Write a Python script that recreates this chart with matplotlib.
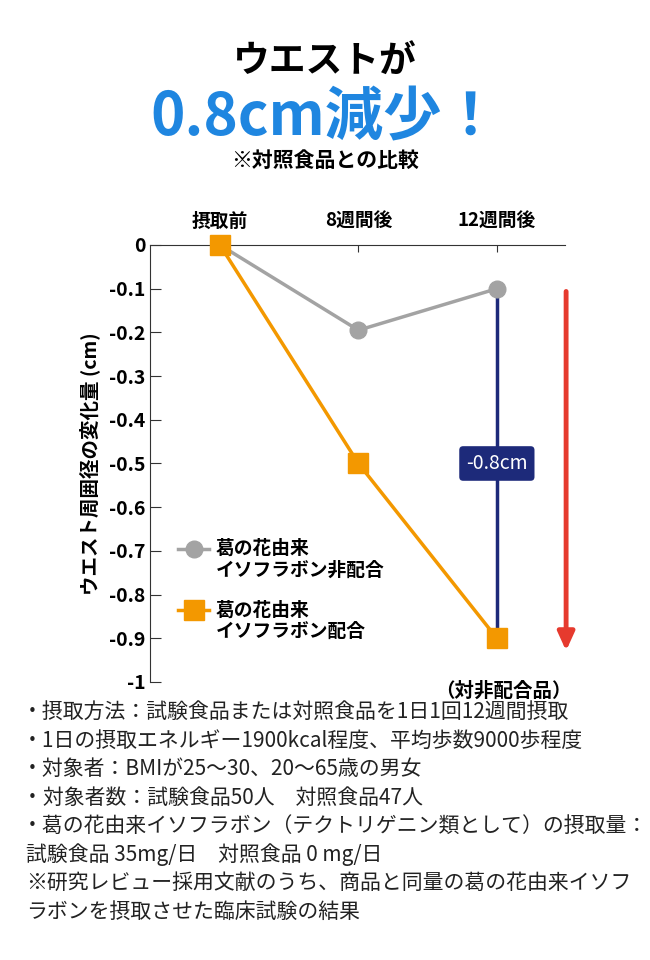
import matplotlib
matplotlib.use("Agg")
import matplotlib.pyplot as plt

plt.rcParams["font.family"] = ["Noto Sans CJK JP"]

categories = ["摂取前", "8週間後", "12週間後"]
control = [0, -0.195, -0.1]
test = [0, -0.5, -0.9]
yticks = [0, -0.1, -0.2, -0.3, -0.4, -0.5, -0.6, -0.7, -0.8, -0.9, -1]
ytick_labels = ["0", "-0.1", "-0.2", "-0.3", "-0.4", "-0.5", "-0.6", "-0.7", "-0.8", "-0.9", "-1"]
notes = [
    "・摂取方法：試験食品または対照食品を1日1回12週間摂取",
    "・1日の摂取エネルギー1900kcal程度、平均歩数9000歩程度",
    "・対象者：BMIが25～30、20～65歳の男女",
    "・対象者数：試験食品50人　対照食品47人",
    "・葛の花由来イソフラボン（テクトリゲニン類として）の摂取量：",
    "試験食品 35mg/日　対照食品 0 mg/日",
    "※研究レビュー採用文献のうち、商品と同量の葛の花由来イソフ",
    "ラボンを摂取させた臨床試験の結果",
]

GRAY = "#a3a3a3"
ORANGE = "#f39800"
NAVY = "#1d2a7a"
RED = "#e63a2e"
BLUE = "#1f86e0"

fig = plt.figure(figsize=(6.5, 9.6), dpi=100)
ax = fig.add_axes([0.2308, 0.2896, 0.638, 0.4552])
x = list(range(len(categories)))
ax.set_xlim(-0.505, 2.49)
ax.set_ylim(-1, 0)

ax.plot(x, control, color=GRAY, lw=2.5, marker="o", ms=12, zorder=3, clip_on=False)
ax.plot(x, test, color=ORANGE, lw=2.5, marker="s", ms=15, zorder=4, clip_on=False)

ax.plot([2, 2], [control[2], test[2]], color=NAVY, lw=2.5, zorder=2)
ax.text(2, (control[2] + test[2]) / 2, "-0.8cm", color="white", fontsize=14,
        ha="center", va="center", zorder=5,
        bbox=dict(boxstyle="round,pad=0.35,rounding_size=0.2", fc=NAVY, ec="none"))
ax.annotate("", xy=(2.5, -0.935), xytext=(2.5, -0.1),
            arrowprops=dict(arrowstyle="-|>,head_width=0.5,head_length=1.1", color=RED, lw=3.5),
            annotation_clip=False)
ax.text(2.05, -1.0, "（対非配合品）", ha="center", va="top", fontsize=14, fontweight="bold")

for s in ["right", "bottom"]:
    ax.spines[s].set_visible(False)
ax.spines["top"].set_color("#333333")
ax.spines["left"].set_color("#333333")
ax.xaxis.tick_top()
ax.set_xticks(x)
ax.set_xticklabels(categories, fontsize=13.5, fontweight="bold")
ax.tick_params(axis="x", direction="in", length=5, pad=10, color="#333333")
ax.set_yticks(yticks)
ax.set_yticklabels(ytick_labels, fontsize=14, fontweight="bold")
ax.tick_params(axis="y", direction="in", length=8, color="#333333")
ax.set_ylabel("ウエスト周囲径の変化量 (cm)", fontsize=14, fontweight="bold", labelpad=6)

ax.plot([-0.3, -0.08], [-0.695, -0.695], color=GRAY, lw=2.5)
ax.plot([-0.19], [-0.695], color=GRAY, marker="o", ms=12)
ax.text(-0.03, -0.695, "葛の花由来", fontsize=13.5, va="center", fontweight="bold")
ax.text(-0.03, -0.745, "イソフラボン非配合", fontsize=13.5, va="center", fontweight="bold")
ax.plot([-0.3, -0.08], [-0.835, -0.835], color=ORANGE, lw=2.5)
ax.plot([-0.19], [-0.835], color=ORANGE, marker="s", ms=14)
ax.text(-0.03, -0.835, "葛の花由来", fontsize=13.5, va="center", fontweight="bold")
ax.text(-0.03, -0.885, "イソフラボン配合", fontsize=13.5, va="center", fontweight="bold")

fig.text(0.5, 1 - 62 / 960, "ウエストが", ha="center", va="center", fontsize=26.5, fontweight="bold")
fig.text(0.5, 1 - 118 / 960, "0.8cm減少！", ha="center", va="center", fontsize=42,
         fontweight="bold", color=BLUE)
fig.text(0.5, 1 - 160 / 960, "※対照食品との比較", ha="center", va="center", fontsize=15, fontweight="bold")

y0 = 712
for i, n in enumerate(notes):
    xx = 22 if n.startswith("・") else 26
    fig.text(xx / 650, 1 - (y0 + i * 28.5) / 960, n, ha="left", va="center", fontsize=15, color="#222222")

fig.savefig("out.png", dpi=100)
